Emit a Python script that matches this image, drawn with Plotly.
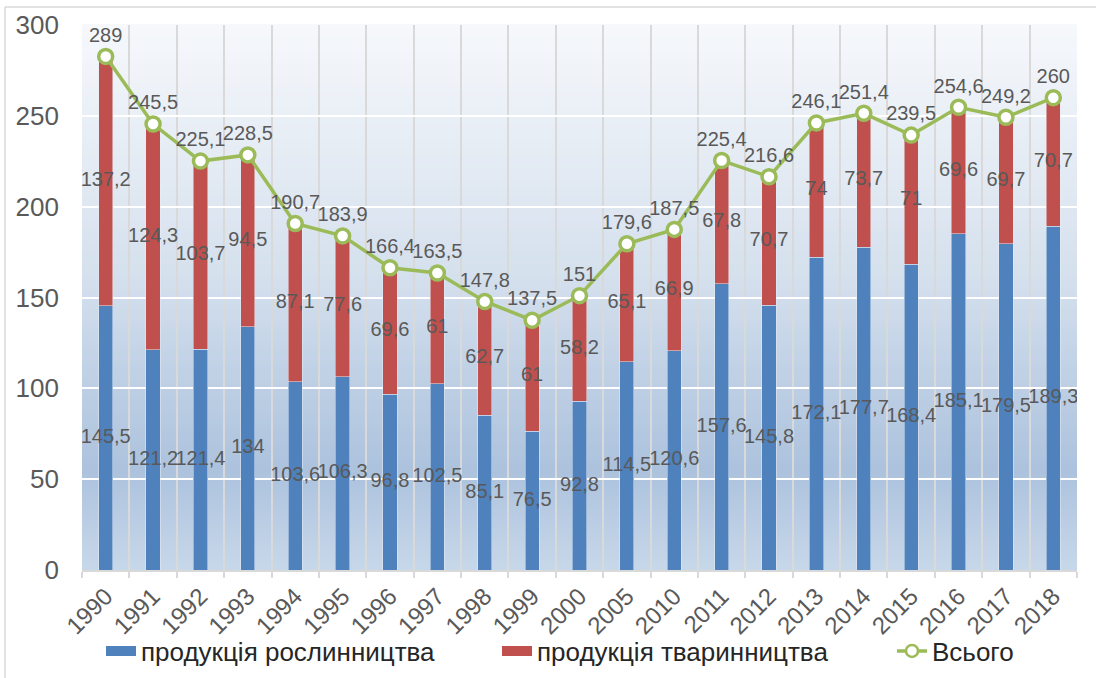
import plotly.graph_objects as go

years = ["1990", "1991", "1992", "1993", "1994", "1995", "1996", "1997", "1998", "1999",
         "2000", "2005", "2010", "2011", "2012", "2013", "2014", "2015", "2016", "2017", "2018"]
plant = [145.5, 121.2, 121.4, 134, 103.6, 106.3, 96.8, 102.5, 85.1, 76.5,
         92.8, 114.5, 120.6, 157.6, 145.8, 172.1, 177.7, 168.4, 185.1, 179.5, 189.3]
animal = [137.2, 124.3, 103.7, 94.5, 87.1, 77.6, 69.6, 61, 62.7, 61,
          58.2, 65.1, 66.9, 67.8, 70.7, 74, 73.7, 71, 69.6, 69.7, 70.7]
total_labels = [289, 245.5, 225.1, 228.5, 190.7, 183.9, 166.4, 163.5, 147.8, 137.5,
                151, 179.6, 187.5, 225.4, 216.6, 246.1, 251.4, 239.5, 254.6, 249.2, 260]
y_ticks = [0, 50, 100, 150, 200, 250, 300]

names = ["продукція рослинництва", "продукція тваринництва", "Всього"]
BLUE, RED, GREEN = "#4f81bd", "#c0504d", "#9bbb59"
LABEL = "#595959"
FONT = "Liberation Sans"


def fmt(v):
    return f"{v:g}".replace(".", ",")


line_y = [p + a for p, a in zip(plant, animal)]
lbl_font = dict(size=20, color=LABEL, family=FONT)

fig = go.Figure()
fig.add_trace(go.Bar(x=years, y=plant, marker_color=BLUE, width=0.3, showlegend=False,
                     hoverinfo="skip"))
fig.add_trace(go.Bar(x=years, y=animal, marker_color=RED, width=0.3, showlegend=False,
                     hoverinfo="skip"))
fig.add_trace(go.Scatter(x=years, y=[p / 2 for p in plant], mode="text",
                         text=[fmt(v) for v in plant], showlegend=False, textfont=lbl_font))
fig.add_trace(go.Scatter(x=years, y=[p + a / 2 for p, a in zip(plant, animal)], mode="text",
                         text=[fmt(v) for v in animal], showlegend=False, textfont=lbl_font))
fig.add_trace(go.Scatter(x=years, y=line_y, mode="lines+markers+text",
                         text=[fmt(v) for v in total_labels], textposition="top center",
                         textfont=lbl_font,
                         line=dict(color=GREEN, width=3.5),
                         marker=dict(size=14, color="white", line=dict(color=GREEN, width=3.5)),
                         showlegend=False))
# legend entries (one legend each, to place them like the original)
fig.add_trace(go.Scatter(x=[None], y=[None], mode="lines", name=names[0], legend="legend",
                         line=dict(color=BLUE, width=14)))
fig.add_trace(go.Scatter(x=[None], y=[None], mode="lines", name=names[1], legend="legend2",
                         line=dict(color=RED, width=14)))
fig.add_trace(go.Scatter(x=[None], y=[None], mode="lines+markers", name=names[2],
                         legend="legend3", line=dict(color=GREEN, width=3.5),
                         marker=dict(size=12, color="white", line=dict(color=GREEN, width=2.5))))

# gradient background of the plot area
stops = [(0.0, (246, 248, 251)), (0.45, (214, 225, 238)), (0.82, (172, 194, 221)),
         (1.0, (200, 216, 234))]


def col_at(t):
    for (t0, c0), (t1, c1) in zip(stops[:-1], stops[1:]):
        if t0 <= t <= t1:
            f = (t - t0) / (t1 - t0)
            return "rgb(%d,%d,%d)" % tuple(round(a + (b - a) * f) for a, b in zip(c0, c1))
    return "rgb(%d,%d,%d)" % stops[-1][1]


shapes = []
N = 120
for i in range(N):
    t = (i + 0.5) / N  # from top
    shapes.append(dict(type="rect", xref="paper", yref="paper", x0=0, x1=1,
                       y0=1 - (i + 1) / N, y1=1 - i / N + 0.002, layer="below",
                       fillcolor=col_at(t), line=dict(width=0)))

W, H = 1096, 678
ML, MR, MT, MB = 82, 19, 25, 108
PW, PH = W - ML - MR, H - MT - MB


def px(x):
    return (x - ML) / PW


def py(y):
    return (H - MB - y) / PH


shapes.append(dict(type="line", xref="paper", yref="paper", x0=px(5), x1=px(W + 5),
                   y0=py(7), y1=py(7), line=dict(color="#d9d9d9", width=1.5)))
shapes.append(dict(type="line", xref="paper", yref="paper", x0=px(5), x1=px(5),
                   y0=py(7), y1=py(H + 5), line=dict(color="#d9d9d9", width=1.5)))

leg_common = dict(orientation="h", xanchor="left", yanchor="middle",
                  xref="container", yref="container", y=(H - 651) / H,
                  font=dict(size=26, color="#262626", family=FONT),
                  bgcolor="rgba(0,0,0,0)", borderwidth=0)

fig.update_layout(
    width=W, height=H,
    margin=dict(l=ML, r=MR, t=MT, b=MB, pad=0, autoexpand=False),
    barmode="stack",
    paper_bgcolor="white",
    plot_bgcolor="rgba(0,0,0,0)",
    font=dict(family=FONT, color=LABEL),
    shapes=shapes,
    legend=dict(x=101 / W, **leg_common),
    legend2=dict(x=497 / W, **leg_common),
    legend3=dict(x=892 / W, **leg_common),
    xaxis=dict(type="category", tickson="boundaries", showgrid=True, gridcolor="#d9d9d9",
               gridwidth=1.5, ticks="outside", ticklen=6, tickcolor="#d9d9d9", tickwidth=1.5,
               showline=True, linecolor="#d9d9d9", linewidth=1.5, tickangle=-45,
               tickfont=dict(size=24, color=LABEL), ticklabelstandoff=1,
               range=[-0.5, len(years) - 0.5], fixedrange=True, automargin=False),
    yaxis=dict(range=[0, 300], tickvals=y_ticks, showgrid=True, gridcolor="white",
               gridwidth=2, zeroline=False, showline=False, ticks="",
               tickfont=dict(size=26, color=LABEL), ticklabelstandoff=22, fixedrange=True,
               automargin=False),
)

fig.write_html("out.html", config={"displayModeBar": False},
               post_script="document.body.style.margin='0';document.body.style.overflow='hidden';")
